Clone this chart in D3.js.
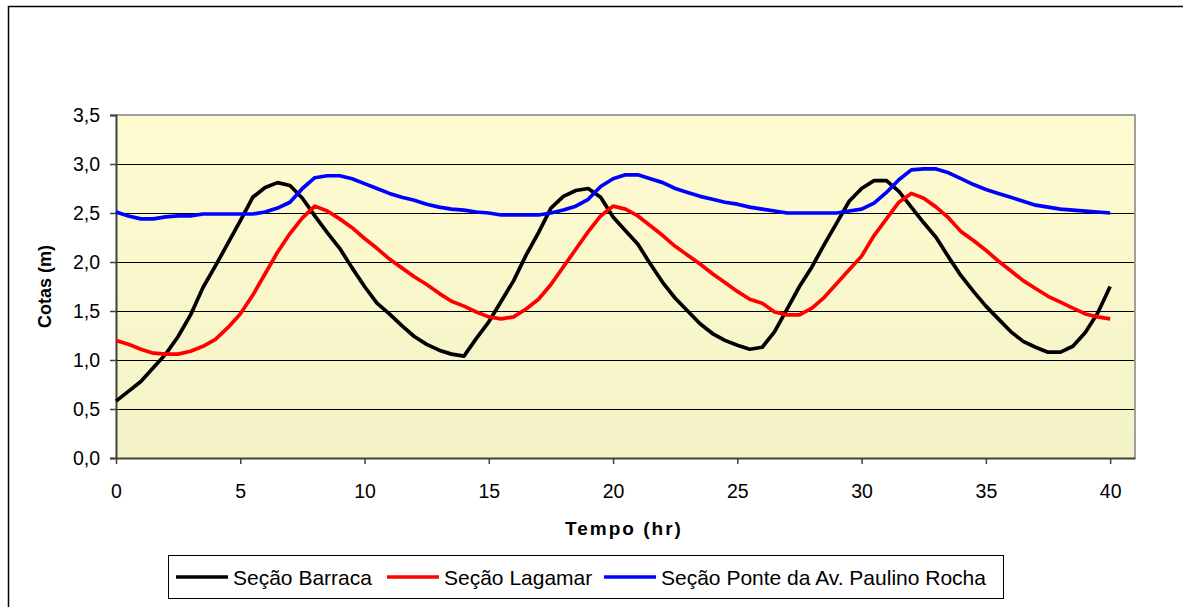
<!DOCTYPE html>
<html>
<head>
<meta charset="utf-8">
<script src="https://cdn.jsdelivr.net/npm/d3@7"></script>
<style>
  html, body { margin: 0; padding: 0; background: #fff; }
  svg { display: block; font-family: "Liberation Sans", Arial, sans-serif; }
</style>
</head>
<body>
<svg id="chart" width="1183" height="607"></svg>
<script>
const times = d3.range(0, 40.001, 0.5);
const barraca = [0.58,0.68,0.78,0.92,1.06,1.24,1.46,1.74,1.96,2.19,2.42,2.66,2.76,2.81,2.78,2.65,2.47,2.30,2.14,1.94,1.75,1.58,1.47,1.35,1.24,1.16,1.10,1.06,1.04,1.22,1.39,1.60,1.81,2.07,2.30,2.55,2.67,2.73,2.75,2.66,2.46,2.32,2.18,1.98,1.79,1.63,1.50,1.37,1.27,1.20,1.15,1.11,1.13,1.29,1.52,1.75,1.95,2.18,2.40,2.62,2.75,2.83,2.83,2.72,2.56,2.40,2.25,2.05,1.86,1.70,1.55,1.42,1.29,1.19,1.13,1.08,1.08,1.14,1.28,1.48,1.75];
const lagamar = [1.20,1.16,1.11,1.07,1.06,1.06,1.09,1.14,1.21,1.33,1.47,1.66,1.88,2.10,2.29,2.45,2.57,2.52,2.44,2.35,2.24,2.14,2.03,1.94,1.85,1.77,1.68,1.60,1.55,1.49,1.44,1.42,1.44,1.52,1.62,1.77,1.95,2.13,2.31,2.47,2.57,2.54,2.47,2.37,2.27,2.16,2.07,1.98,1.88,1.79,1.70,1.62,1.58,1.49,1.46,1.46,1.53,1.64,1.78,1.92,2.06,2.27,2.44,2.61,2.70,2.65,2.56,2.45,2.31,2.22,2.12,2.01,1.91,1.81,1.73,1.65,1.59,1.53,1.47,1.44,1.42];
const ponte = [2.51,2.47,2.44,2.44,2.46,2.47,2.47,2.49,2.49,2.49,2.49,2.49,2.51,2.55,2.61,2.75,2.86,2.88,2.88,2.85,2.80,2.75,2.70,2.66,2.63,2.59,2.56,2.54,2.53,2.51,2.50,2.48,2.48,2.48,2.48,2.50,2.53,2.57,2.64,2.77,2.85,2.89,2.89,2.85,2.81,2.75,2.71,2.67,2.64,2.61,2.59,2.56,2.54,2.52,2.50,2.50,2.50,2.50,2.50,2.52,2.54,2.60,2.71,2.84,2.94,2.95,2.95,2.91,2.85,2.79,2.74,2.70,2.66,2.62,2.58,2.56,2.54,2.53,2.52,2.51,2.50];
const seriesNames = ["Seção Barraca", "Seção Lagamar", "Seção Ponte da Av. Paulino Rocha"];
const seriesColors = ["#000000", "#ff0000", "#0000ff"];
const xTicks = [0,5,10,15,20,25,30,35,40];
const yTicks = [0,0.5,1,1.5,2,2.5,3,3.5];
const xTitle = "Tempo (hr)";
const yTitle = "Cotas (m)";

const svg = d3.select("#chart");
const L = 116, R = 1135, T = 115, B = 458;
const x = d3.scaleLinear().domain([0, 41]).range([L, R]);
const y = d3.scaleLinear().domain([0, 3.5]).range([B, T]);

// outer frame
svg.append("rect").attr("x", 8.5).attr("y", 6.5).attr("width", 1200).attr("height", 650)
  .attr("fill", "#fff").attr("stroke", "#000").attr("stroke-width", 1.5);

// gradient background
const defs = svg.append("defs");
const grad = defs.append("linearGradient").attr("id", "bg").attr("x1", 0).attr("y1", 0).attr("x2", 0).attr("y2", 1);
grad.append("stop").attr("offset", "0%").attr("stop-color", "#fdfbcf");
grad.append("stop").attr("offset", "100%").attr("stop-color", "#f4f2c7");
svg.append("rect").attr("x", L).attr("y", T).attr("width", R - L).attr("height", B - T).attr("fill", "url(#bg)");

// gridlines
svg.append("g").selectAll("line").data(yTicks.filter(d => d > 0 && d < 3.5)).join("line")
  .attr("x1", L).attr("x2", R).attr("y1", d => Math.round(y(d)) + 0.5).attr("y2", d => Math.round(y(d)) + 0.5)
  .attr("stroke", "#000").attr("stroke-width", 1);

// top/right border
svg.append("path").attr("d", `M${L},${T} H${R} V${B}`).attr("fill", "none")
  .attr("stroke", "#a0a0a0").attr("stroke-width", 2);

const fmt = d => d3.format(".1f")(d).replace(".", ",");

// y axis
const yAxis = svg.append("g").attr("transform", `translate(${L},0)`)
  .call(d3.axisLeft(y).tickValues(yTicks).tickFormat(fmt).tickSize(6).tickPadding(10));
yAxis.select(".domain").attr("stroke", "#404040").attr("stroke-width", 2);
yAxis.selectAll(".tick line").attr("stroke", "#404040").attr("stroke-width", 1.5);
yAxis.selectAll("text").attr("font-size", 19.5).attr("fill", "#000").attr("font-family", "Liberation Sans, Arial, sans-serif");

// x axis
const xAxis = svg.append("g").attr("transform", `translate(0,${B})`)
  .call(d3.axisBottom(x).tickValues(xTicks).tickFormat(d3.format("d")).tickSize(6).tickPadding(20).tickSizeOuter(0));
xAxis.select(".domain").attr("stroke", "#404040").attr("stroke-width", 2);
xAxis.selectAll(".tick line").attr("stroke", "#404040").attr("stroke-width", 1.5);
xAxis.selectAll("text").attr("font-size", 19.5).attr("fill", "#000").attr("font-family", "Liberation Sans, Arial, sans-serif");

// lines
const allSeries = [barraca, lagamar, ponte];
const line = d3.line().x((d, i) => x(times[i])).y(d => y(d));
svg.append("g").selectAll("path").data(allSeries).join("path")
  .attr("d", d => line(d)).attr("fill", "none")
  .attr("stroke", (d, i) => seriesColors[i]).attr("stroke-width", 3.7)
  .attr("stroke-linejoin", "round").attr("stroke-linecap", "butt");

// axis titles
svg.append("text").attr("x", 624).attr("y", 535).attr("text-anchor", "middle")
  .attr("font-size", 19).attr("font-weight", "bold").attr("letter-spacing", 2).text(xTitle);
svg.append("text").attr("transform", `translate(51,${(T + B) / 2}) rotate(-90)`).attr("text-anchor", "middle")
  .attr("font-size", 18).attr("font-weight", "bold").text(yTitle);

// legend
const lg = svg.append("g");
lg.append("rect").attr("x", 168.5).attr("y", 555.5).attr("width", 835).attr("height", 43)
  .attr("fill", "#fff").attr("stroke", "#000").attr("stroke-width", 1);
const legendX = [176, 387, 604];
seriesNames.forEach((name, i) => {
  lg.append("line").attr("x1", legendX[i]).attr("x2", legendX[i] + 52).attr("y1", 577).attr("y2", 577)
    .attr("stroke", seriesColors[i]).attr("stroke-width", 3.7);
  lg.append("text").attr("x", legendX[i] + 57).attr("y", 584.5).attr("font-size", 21).text(name);
});
</script>
</body>
</html>
